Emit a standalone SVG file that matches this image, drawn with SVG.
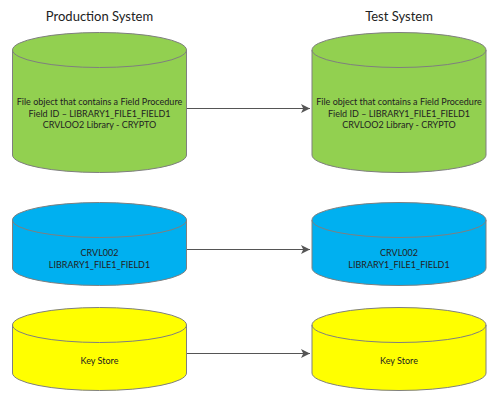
<svg xmlns="http://www.w3.org/2000/svg" width="500" height="415" viewBox="0 0 500 415">
<defs>
<style>
.cyl{stroke:#7f7f7f;stroke-width:1}
.rim{fill:none;stroke:#7f7f7f;stroke-width:1}
.green{fill:#92d050}
.blue{fill:#00b0f0}
.yellow{fill:#ffff00}
.lbl{font-family:Lato,"Liberation Sans",sans-serif;font-size:9px;fill:#222;text-anchor:middle}
.title{font-family:Lato,"Liberation Sans",sans-serif;font-size:13px;fill:#222;text-anchor:middle}
.conn{stroke:#555;stroke-width:1;fill:none;marker-end:url(#ah)}
</style>
<marker id="ah" viewBox="0 0 10 10" refX="10" refY="5" markerWidth="9" markerHeight="10" markerUnits="userSpaceOnUse" orient="auto">
<path d="M0,0 L10,5 L0,10 L2.5,5 Z" fill="#555"/>
</marker>
</defs>
<rect width="500" height="415" fill="#fff"/>
<g id="titles">
<text class="title" x="99.5" y="21">Production System</text>
<text class="title" x="399" y="21">Test System</text>
</g>
<g id="prod-file">
<path class="cyl green" d="M12.5,50 A87,17.5 0 0 1 186.5,50 L186.5,155 A87,17.5 0 0 1 12.5,155 Z"/>
<path class="rim" d="M12.5,50 A87,17.5 0 0 0 186.5,50"/>
<text class="lbl" x="99.5" y="105">File object that contains a Field Procedure</text>
<text class="lbl" x="99.5" y="116.7">Field ID – LIBRARY1_FILE1_FIELD1</text>
<text class="lbl" x="99.5" y="128.4">CRVLOO2 Library - CRYPTO</text>
</g>
<g id="test-file">
<path class="cyl green" d="M312,50 A87,17.5 0 0 1 486,50 L486,155 A87,17.5 0 0 1 312,155 Z"/>
<path class="rim" d="M312,50 A87,17.5 0 0 0 486,50"/>
<text class="lbl" x="399" y="105">File object that contains a Field Procedure</text>
<text class="lbl" x="399" y="116.7">Field ID – LIBRARY1_FILE1_FIELD1</text>
<text class="lbl" x="399" y="128.4">CRVLOO2 Library - CRYPTO</text>
</g>
<g id="prod-lib">
<path class="cyl blue" d="M12.5,220 A87,17.5 0 0 1 186.5,220 L186.5,268 A87,17.5 0 0 1 12.5,268 Z"/>
<path class="rim" d="M12.5,220 A87,17.5 0 0 0 186.5,220"/>
<text class="lbl" x="99.5" y="255.5">CRVL002</text>
<text class="lbl" x="99.5" y="267.5">LIBRARY1_FILE1_FIELD1</text>
</g>
<g id="test-lib">
<path class="cyl blue" d="M312,220 A87,17.5 0 0 1 486,220 L486,268 A87,17.5 0 0 1 312,268 Z"/>
<path class="rim" d="M312,220 A87,17.5 0 0 0 486,220"/>
<text class="lbl" x="399" y="255.5">CRVL002</text>
<text class="lbl" x="399" y="267.5">LIBRARY1_FILE1_FIELD1</text>
</g>
<g id="prod-keystore">
<path class="cyl yellow" d="M12.5,325 A87,17.5 0 0 1 186.5,325 L186.5,373 A87,17.5 0 0 1 12.5,373 Z"/>
<path class="rim" d="M12.5,325 A87,17.5 0 0 0 186.5,325"/>
<text class="lbl" x="99.5" y="364">Key Store</text>
</g>
<g id="test-keystore">
<path class="cyl yellow" d="M312,325 A87,17.5 0 0 1 486,325 L486,373 A87,17.5 0 0 1 312,373 Z"/>
<path class="rim" d="M312,325 A87,17.5 0 0 0 486,325"/>
<text class="lbl" x="399" y="364">Key Store</text>
</g>
<g id="connectors">
<line class="conn" x1="187" y1="108.5" x2="310" y2="108.5"/>
<line class="conn" x1="187" y1="249.5" x2="310" y2="249.5"/>
<line class="conn" x1="187" y1="353.5" x2="310" y2="353.5"/>
</g>
</svg>
